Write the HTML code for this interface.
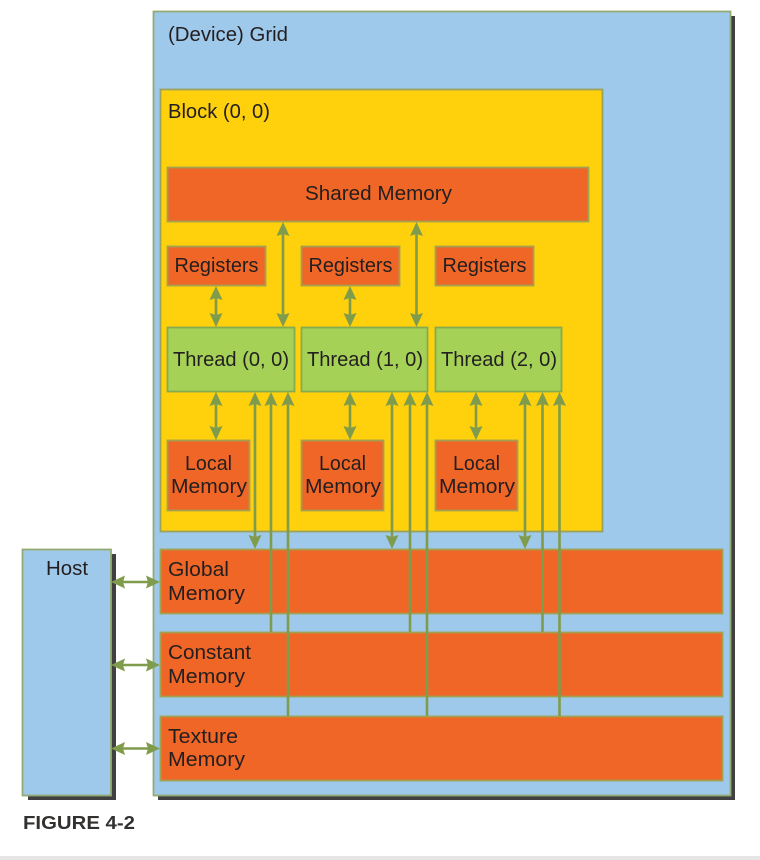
<!DOCTYPE html>
<html><head><meta charset="utf-8">
<style>
html,body{margin:0;padding:0;background:#fff}
svg{display:block}
text{font-family:"Liberation Sans",sans-serif;font-size:20px;fill:#231f20}
.b{stroke:#93ab72;stroke-width:1.8}
.o{fill:#f06627;stroke:#a3a050;stroke-width:1.8}
.g{fill:#a5d157;stroke:#86aa50;stroke-width:1.8}
.l{stroke:#7f9c4d;stroke-width:2.6;fill:none}
.h{fill:#7f9c4d}
</style></head><body>
<svg width="760" height="860" viewBox="0 0 760 860" xmlns="http://www.w3.org/2000/svg">
<rect width="760" height="860" fill="#fff"/>
<rect x="0" y="856" width="760" height="4" fill="#e6e6e6"/>
<!-- shadows -->
<rect x="158" y="16" width="577" height="784" fill="#404040"/>
<rect x="28" y="554" width="88" height="246" fill="#404040"/>
<!-- grid / host -->
<rect x="153.500" y="11.500" width="577" height="784" fill="#9fc9ea" class="b"/>
<rect x="22.500" y="549.500" width="88.500" height="246" fill="#9fc9ea" class="b"/>
<!-- block -->
<rect x="160.500" y="89.500" width="442" height="442" fill="#ffd00c" stroke="#9aa25c" stroke-width="1.8"/>
<!-- boxes -->
<rect x="167.500" y="167.500" width="421" height="54" class="o"/>
<rect x="167.500" y="246.500" width="98" height="39" class="o"/>
<rect x="301.500" y="246.500" width="98" height="39" class="o"/>
<rect x="435.500" y="246.500" width="98" height="39" class="o"/>
<rect x="167.500" y="327.500" width="127" height="64" class="g"/>
<rect x="301.500" y="327.500" width="126" height="64" class="g"/>
<rect x="435.500" y="327.500" width="126" height="64" class="g"/>
<rect x="167.500" y="440.500" width="82" height="70" class="o"/>
<rect x="301.500" y="440.500" width="82" height="70" class="o"/>
<rect x="435.500" y="440.500" width="82" height="70" class="o"/>
<rect x="160.500" y="549.500" width="562" height="64" class="o"/>
<rect x="160.500" y="632.500" width="562" height="64" class="o"/>
<rect x="160.500" y="716.500" width="562" height="64" class="o"/>
<!-- connector lines -->
<g class="l">
<path d="M216 290V322M350 290V322M283 226V322M416.500 226V322"/>
<path d="M216 397V435M350 397V435M476 397V435"/>
<path d="M255 397V544M392 397V544M525 397V544"/>
<path d="M271 397V632M288 397V716M410 397V632M427 397V716M542.500 397V632M559.500 397V716"/>
<path d="M116 582H155M116 665H155M116 748.500H155"/>
</g>
<!-- arrowheads -->
<g class="h">
<path d="M216 286l-6.500 14 6.500-2 6.500 2zM216 327l-6.500-14 6.500 2 6.500-2zM350 286l-6.500 14 6.500-2 6.500 2zM350 327l-6.500-14 6.500 2 6.500-2z"/>
<path d="M283 222l-6.500 14 6.500-2 6.500 2zM283 327l-6.500-14 6.500 2 6.500-2zM416.500 222l-6.500 14 6.500-2 6.500 2zM416.500 327l-6.500-14 6.500 2 6.500-2z"/>
<path d="M216 392l-6.500 14 6.500-2 6.500 2zM216 440l-6.500-14 6.500 2 6.500-2zM350 392l-6.500 14 6.500-2 6.500 2zM350 440l-6.500-14 6.500 2 6.500-2zM476 392l-6.500 14 6.500-2 6.500 2zM476 440l-6.500-14 6.500 2 6.500-2z"/>
<path d="M255 392l-6.500 14 6.500-2 6.500 2zM255 549l-6.500-14 6.500 2 6.500-2zM392 392l-6.500 14 6.500-2 6.500 2zM392 549l-6.500-14 6.500 2 6.500-2zM525 392l-6.500 14 6.500-2 6.500 2zM525 549l-6.500-14 6.500 2 6.500-2z"/>
<path d="M271 392l-6.500 14 6.500-2 6.500 2zM288 392l-6.500 14 6.500-2 6.500 2zM410 392l-6.500 14 6.500-2 6.500 2zM427 392l-6.500 14 6.500-2 6.500 2zM542.500 392l-6.500 14 6.500-2 6.500 2zM559.500 392l-6.500 14 6.500-2 6.500 2z"/>
<path d="M111 582l14-6.500-2 6.500 2 6.500zM160 582l-14-6.500 2 6.500-2 6.500zM111 665l14-6.500-2 6.500 2 6.500zM160 665l-14-6.500 2 6.500-2 6.500zM111 748.500l14-6.500-2 6.500 2 6.500zM160 748.500l-14-6.500 2 6.500-2 6.500z"/>
</g>
<!-- labels -->
<text x="168" y="41" textLength="120" lengthAdjust="spacingAndGlyphs">(Device) Grid</text>
<text x="168" y="118" textLength="102" lengthAdjust="spacingAndGlyphs">Block (0, 0)</text>
<text x="305" y="200" textLength="147" lengthAdjust="spacingAndGlyphs">Shared Memory</text>
<text x="174.500" y="272" textLength="84" lengthAdjust="spacingAndGlyphs">Registers</text>
<text x="308.500" y="272" textLength="84" lengthAdjust="spacingAndGlyphs">Registers</text>
<text x="442.500" y="272" textLength="84" lengthAdjust="spacingAndGlyphs">Registers</text>
<text x="173" y="366" textLength="116" lengthAdjust="spacingAndGlyphs">Thread (0, 0)</text>
<text x="307" y="366" textLength="116" lengthAdjust="spacingAndGlyphs">Thread (1, 0)</text>
<text x="441" y="366" textLength="116" lengthAdjust="spacingAndGlyphs">Thread (2, 0)</text>
<text x="185" y="470" textLength="47" lengthAdjust="spacingAndGlyphs">Local</text>
<text x="171" y="493" textLength="76" lengthAdjust="spacingAndGlyphs">Memory</text>
<text x="319" y="470" textLength="47" lengthAdjust="spacingAndGlyphs">Local</text>
<text x="305" y="493" textLength="76" lengthAdjust="spacingAndGlyphs">Memory</text>
<text x="453" y="470" textLength="47" lengthAdjust="spacingAndGlyphs">Local</text>
<text x="439" y="493" textLength="76" lengthAdjust="spacingAndGlyphs">Memory</text>
<text x="168" y="576" textLength="61" lengthAdjust="spacingAndGlyphs">Global</text>
<text x="168" y="600" textLength="77" lengthAdjust="spacingAndGlyphs">Memory</text>
<text x="168" y="659" textLength="83" lengthAdjust="spacingAndGlyphs">Constant</text>
<text x="168" y="683" textLength="77" lengthAdjust="spacingAndGlyphs">Memory</text>
<text x="168" y="743" textLength="70" lengthAdjust="spacingAndGlyphs">Texture</text>
<text x="168" y="766" textLength="77" lengthAdjust="spacingAndGlyphs">Memory</text>
<text x="46" y="575" textLength="42" lengthAdjust="spacingAndGlyphs">Host</text>
<text x="23" y="829" textLength="112" lengthAdjust="spacingAndGlyphs" style="font-weight:bold;font-size:18px;fill:#33312f">FIGURE 4-2</text>
</svg>
</body></html>
